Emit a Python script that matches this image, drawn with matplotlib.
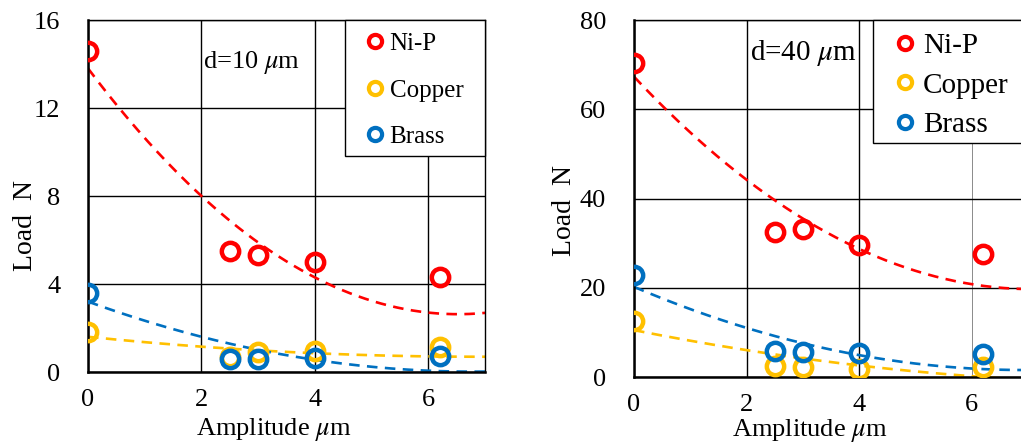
import numpy as np
import matplotlib
matplotlib.use("Agg")
import matplotlib.pyplot as plt
from matplotlib.lines import Line2D
from matplotlib.patches import Rectangle

plt.rcParams['font.family'] = ['Liberation Serif', 'DejaVu Serif']
plt.rcParams['mathtext.fontset'] = 'stix'

# ---- data ----
amplitude = [0, 2.5, 3.0, 4.0, 6.2]
series_names = ["Ni-P", "Copper", "Brass"]
colors = ["#FF0000", "#FFC000", "#0070C0"]

# d = 10 um
load10_nip = [14.6, 5.5, 5.3, 5.0, 4.3]
load10_copper = [1.8, 0.7, 0.9, 0.95, 1.15]
load10_brass = [3.6, 0.6, 0.6, 0.65, 0.75]
# quadratic trendline coefficients (c2, c1, c0)
trend10_nip = [0.2625, -3.425, 13.8]
trend10_copper = [0.019, -0.2625, 1.6]
trend10_brass = [0.069, -0.9375, 3.2]

# d = 40 um
load40_nip = [70.4, 32.5, 33.1, 29.6, 27.6]
load40_copper = [12.6, 2.5, 2.3, 1.9, 2.3]
load40_brass = [22.9, 5.8, 5.7, 5.3, 5.1]
trend40_nip = [0.95, -13.45, 67.3]
trend40_copper = [0.13, -2.5, 10.5]
trend40_brass = [0.3875, -5.375, 20.2]

xticks = [0, 2, 4, 6]
yticks10 = [0, 4, 8, 12, 16]
yticks40 = [0, 20, 40, 60, 80]

fig = plt.figure(figsize=(10.21, 4.48), dpi=100)

def panel(rect, loads, trends, yticks, ymax, title, fs_leg, fs_title,
          xl_coords, yl_coords, leg_box, leg_anchor, labelspacing, gray6):
    ax = fig.add_axes(rect)
    ax.set_xlim(0, 7)
    ax.set_ylim(0, ymax)
    ax.set_xticks(xticks)
    ax.set_yticks(yticks)
    ax.tick_params(length=0, labelsize=19)
    ax.tick_params(axis='y', pad=20)
    ax.tick_params(axis='x', pad=12)
    ax.grid(True, color='black', lw=1.0, zorder=0)
    ax.set_axisbelow(True)
    if gray6:
        for gl, t in zip(ax.get_xgridlines(), xticks):
            if t == 6:
                gl.set_color('#777777')
                gl.set_linewidth(0.6)
    for s in ['left', 'bottom']:
        ax.spines[s].set_linewidth(1.8)
    for s in ['top', 'right']:
        ax.spines[s].set_linewidth(1.0)
    xs = np.linspace(0, 7, 200)
    for y, tr, c in zip(loads, trends, colors):
        ax.plot(xs, np.polyval(tr, xs), ls='--', dashes=(4.0, 2.8), lw=1.9,
                color=c, zorder=2)
        ax.plot(amplitude, y, ls='none', marker='o', ms=12.5, mew=3.2,
                mfc='none', mec=c, zorder=3)
    ax.set_xlabel("Amplitude $\\mu$m", fontsize=19)
    ax.xaxis.set_label_coords(*xl_coords)
    ax.set_ylabel("Load  N", fontsize=20)
    ax.yaxis.set_label_coords(*yl_coords)
    ax.text(title[1], title[2], title[0], transform=ax.transAxes,
            fontsize=fs_title, va='center', ha='left', zorder=4)
    # legend box
    x0, y0 = leg_box
    ax.add_patch(Rectangle((x0, y0), 1.0 - x0, 1.0 - y0, transform=ax.transAxes,
                           facecolor='white', edgecolor='black', lw=1.0,
                           clip_on=False, zorder=5))
    handles = [Line2D([], [], ls='none', marker='o', ms=9.5, mew=3.0,
                      mfc='none', mec=c) for c in colors]
    leg = ax.legend(handles, series_names, loc='upper left',
                    bbox_to_anchor=leg_anchor, frameon=False, borderpad=0,
                    borderaxespad=0, handlelength=0.8, handletextpad=0.2,
                    labelspacing=labelspacing, fontsize=fs_leg)
    leg.set_zorder(6)
    return ax

panel([88/1021, 1 - 372/448, 397/1021, 352/448],
      [load10_nip, load10_copper, load10_brass],
      [trend10_nip, trend10_copper, trend10_brass],
      yticks10, 16, ("d=10 $\\mu$m", 0.29, 0.88), 18, 19,
      (0.468, -0.125), (-0.126, 0.415),
      (0.647, 0.6136), (0.697, 0.964), 0.96, False)

panel([634/1021, 1 - 377/448, 394/1021, 357/448],
      [load40_nip, load40_copper, load40_brass],
      [trend40_nip, trend40_copper, trend40_brass],
      yticks40, 80, ("d=40 $\\mu$m", 0.294, 0.908), 21, 21,
      (0.447, -0.112), (-0.144, 0.465),
      (0.6066, 0.655), (0.659, 0.964), 0.44, True)

fig.savefig("out.png", dpi=100)
